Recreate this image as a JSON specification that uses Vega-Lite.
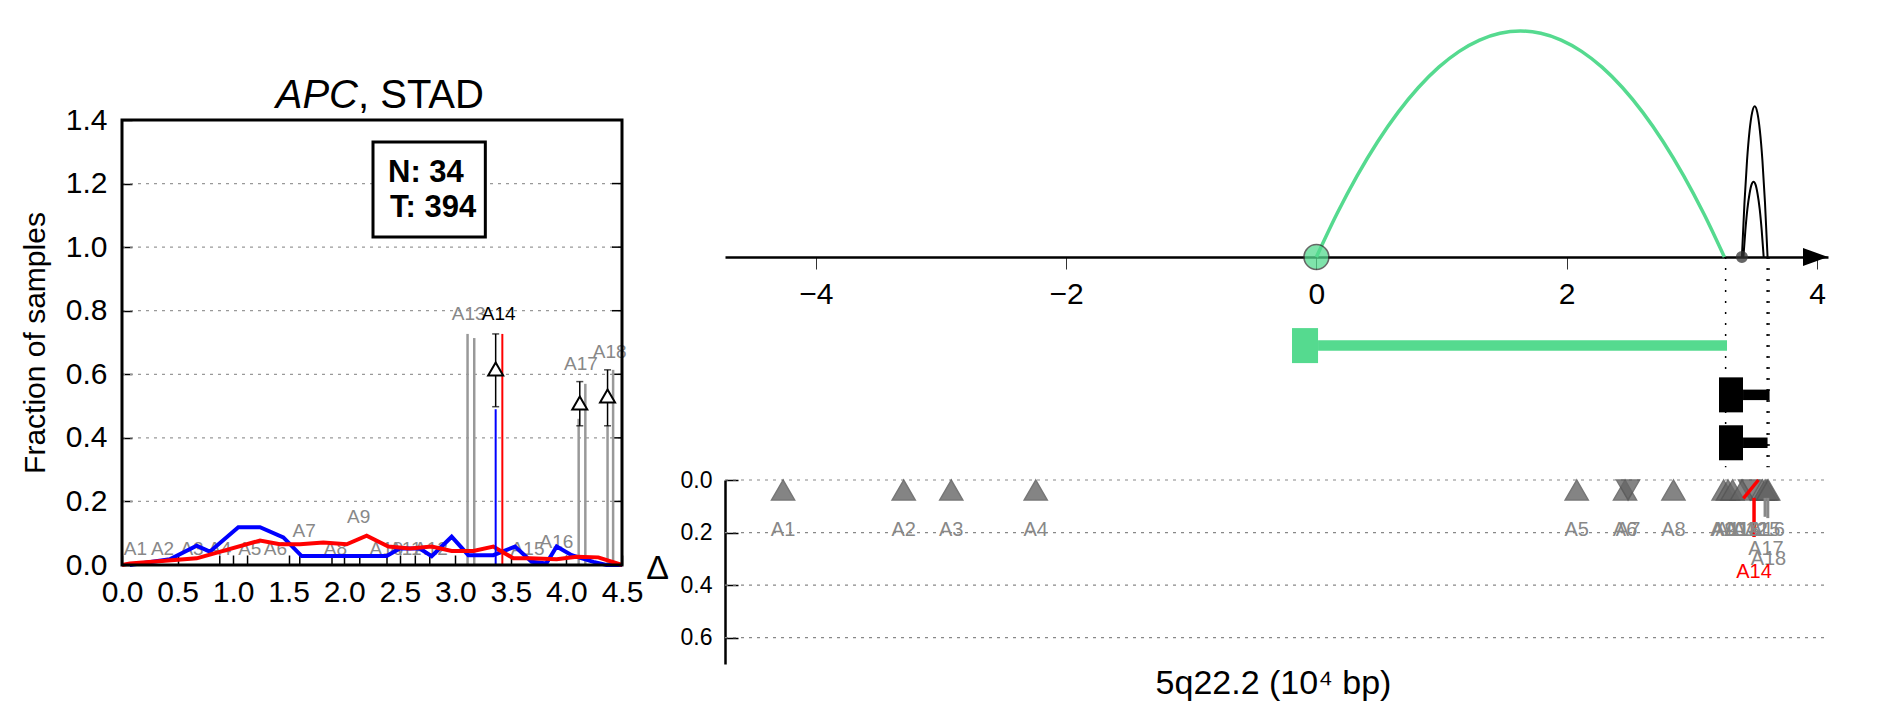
{
  "$schema": "https://vega.github.io/schema/vega-lite/v6.json",
  "width": 1883,
  "height": 718,
  "autosize": {"type": "none"},
  "padding": 0,
  "background": "white",
  "config": {
    "view": {"stroke": null},
    "font": "Liberation Sans",
    "axis": {"labelFont": "Liberation Sans", "titleFont": "Liberation Sans", "grid": false}
  },
  "datasets": {
    "leftGrid": [{"y": 0.2}, {"y": 0.4}, {"y": 0.6}, {"y": 0.8}, {"y": 1.0}, {"y": 1.2}],
    "leftBlue": [
      {"x": 0.07, "y": 0.0}, {"x": 0.43, "y": 0.018}, {"x": 0.672, "y": 0.061}, {"x": 0.79, "y": 0.042},
      {"x": 1.047, "y": 0.119}, {"x": 1.242, "y": 0.119}, {"x": 1.452, "y": 0.087}, {"x": 1.617, "y": 0.028},
      {"x": 2.382, "y": 0.028}, {"x": 2.5, "y": 0.052}, {"x": 2.68, "y": 0.052}, {"x": 2.787, "y": 0.028},
      {"x": 2.967, "y": 0.089}, {"x": 3.117, "y": 0.031}, {"x": 3.342, "y": 0.031}, {"x": 3.537, "y": 0.058},
      {"x": 3.687, "y": 0.01}, {"x": 3.82, "y": 0.005}, {"x": 3.912, "y": 0.058}, {"x": 4.047, "y": 0.031},
      {"x": 4.243, "y": 0.01}, {"x": 4.36, "y": 0.0}, {"x": 4.5, "y": 0.0}
    ],
    "leftRed": [
      {"x": 0.0, "y": 0.0}, {"x": 0.072, "y": 0.005}, {"x": 0.672, "y": 0.021}, {"x": 1.242, "y": 0.077},
      {"x": 1.422, "y": 0.065}, {"x": 1.602, "y": 0.065}, {"x": 1.812, "y": 0.071}, {"x": 2.022, "y": 0.065},
      {"x": 2.202, "y": 0.092}, {"x": 2.397, "y": 0.058}, {"x": 2.592, "y": 0.052}, {"x": 2.787, "y": 0.058},
      {"x": 2.967, "y": 0.044}, {"x": 3.162, "y": 0.044}, {"x": 3.342, "y": 0.058}, {"x": 3.522, "y": 0.021},
      {"x": 3.672, "y": 0.021}, {"x": 3.912, "y": 0.018}, {"x": 4.092, "y": 0.026}, {"x": 4.287, "y": 0.024},
      {"x": 4.5, "y": 0.0}
    ],
    "leftSpikes": [{"x": 3.363, "y": 0.49, "s": "N"}, {"x": 3.423, "y": 0.727, "s": "T"}],
    "leftStems": [
      {"x": 3.11, "y": 0.727}, {"x": 3.17, "y": 0.714}, {"x": 4.11, "y": 0.46},
      {"x": 4.17, "y": 0.57}, {"x": 4.37, "y": 0.44}, {"x": 4.42, "y": 0.614}
    ],
    "leftSmall": [
      {"x": 0.88, "y": 0.03}, {"x": 1.13, "y": 0.03}, {"x": 1.6, "y": 0.03}, {"x": 1.89, "y": 0.03},
      {"x": 2.14, "y": 0.03}, {"x": 2.385, "y": 0.03}, {"x": 2.64, "y": 0.03}, {"x": 2.77, "y": 0.03}
    ],
    "leftErr": [
      {"x": 3.363, "y": 0.617, "lo": 0.498, "hi": 0.727},
      {"x": 4.12, "y": 0.51, "lo": 0.438, "hi": 0.577},
      {"x": 4.37, "y": 0.532, "lo": 0.438, "hi": 0.614}
    ],
    "leftLabels": [
      {"label": "A1", "x": 0.12, "y": 0.03}, {"label": "A2", "x": 0.365, "y": 0.03},
      {"label": "A3", "x": 0.63, "y": 0.03}, {"label": "A4", "x": 0.88, "y": 0.03},
      {"label": "A5", "x": 1.15, "y": 0.03}, {"label": "A6", "x": 1.38, "y": 0.03},
      {"label": "A7", "x": 1.64, "y": 0.088}, {"label": "A8", "x": 1.92, "y": 0.03},
      {"label": "A9", "x": 2.13, "y": 0.132}, {"label": "A10", "x": 2.38, "y": 0.03},
      {"label": "A11", "x": 2.55, "y": 0.03}, {"label": "A12", "x": 2.78, "y": 0.03},
      {"label": "A13", "x": 3.12, "y": 0.772}, {"label": "A14", "x": 3.39, "y": 0.772},
      {"label": "A15", "x": 3.65, "y": 0.03}, {"label": "A16", "x": 3.91, "y": 0.054},
      {"label": "A17", "x": 4.13, "y": 0.613}, {"label": "A18", "x": 4.39, "y": 0.65}
    ],
    "rtDots": [{"x": 3.27}, {"x": 3.602}, {"x": 3.616}],
    "rtGreenArc": [
      {"x": 0.0, "y": 0.0}, {"x": 0.163, "y": 0.19}, {"x": 0.326, "y": 0.36}, {"x": 0.489, "y": 0.51},
      {"x": 0.652, "y": 0.64}, {"x": 0.815, "y": 0.75}, {"x": 0.978, "y": 0.84}, {"x": 1.141, "y": 0.91},
      {"x": 1.304, "y": 0.96}, {"x": 1.467, "y": 0.99}, {"x": 1.63, "y": 1.0}, {"x": 1.793, "y": 0.99},
      {"x": 1.956, "y": 0.96}, {"x": 2.119, "y": 0.91}, {"x": 2.282, "y": 0.84}, {"x": 2.445, "y": 0.75},
      {"x": 2.608, "y": 0.64}, {"x": 2.771, "y": 0.51}, {"x": 2.934, "y": 0.36}, {"x": 3.097, "y": 0.19},
      {"x": 3.26, "y": 0.0}
    ],
    "rtBlackArcs": [
      {"arc": "tall", "x": 3.4, "y": 0.0}, {"arc": "tall", "x": 3.4205, "y": 0.24}, {"arc": "tall", "x": 3.441, "y": 0.427},
      {"arc": "tall", "x": 3.4615, "y": 0.56}, {"arc": "tall", "x": 3.482, "y": 0.64}, {"arc": "tall", "x": 3.5025, "y": 0.667},
      {"arc": "tall", "x": 3.523, "y": 0.64}, {"arc": "tall", "x": 3.5435, "y": 0.56}, {"arc": "tall", "x": 3.564, "y": 0.427},
      {"arc": "tall", "x": 3.5845, "y": 0.24}, {"arc": "tall", "x": 3.605, "y": 0.0},
      {"arc": "short", "x": 3.412, "y": 0.0}, {"arc": "short", "x": 3.428, "y": 0.12}, {"arc": "short", "x": 3.444, "y": 0.213},
      {"arc": "short", "x": 3.461, "y": 0.28}, {"arc": "short", "x": 3.477, "y": 0.32}, {"arc": "short", "x": 3.493, "y": 0.333},
      {"arc": "short", "x": 3.509, "y": 0.32}, {"arc": "short", "x": 3.525, "y": 0.28}, {"arc": "short", "x": 3.542, "y": 0.213},
      {"arc": "short", "x": 3.558, "y": 0.12}, {"arc": "short", "x": 3.574, "y": 0.0}
    ],
    "rtGeneBars": [
      {"gene": "APC", "start": 0.013, "end": 3.281, "lane": -0.392},
      {"gene": "g2", "start": 3.409, "end": 3.621, "lane": -0.61},
      {"gene": "g3", "start": 3.409, "end": 3.605, "lane": -0.822}
    ],
    "rtGeneBoxes": [
      {"gene": "APC", "start": -0.195, "end": 0.013, "lane": -0.392},
      {"gene": "g2", "start": 3.217, "end": 3.409, "lane": -0.61},
      {"gene": "g3", "start": 3.217, "end": 3.409, "lane": -0.822}
    ],
    "rtNodes": [{"x": 0.0, "kind": "fusion"}, {"x": 3.4, "kind": "break"}],
    "rbGrid": [{"y": 0.0}, {"y": 0.2}, {"y": 0.4}, {"y": 0.6}],
    "rbMut": [
      {"id": "A1", "x": -4.262, "dir": "up"}, {"id": "A2", "x": -3.298, "dir": "up"},
      {"id": "A3", "x": -2.918, "dir": "up"}, {"id": "A4", "x": -2.243, "dir": "up"},
      {"id": "A5", "x": 2.08, "dir": "up"}, {"id": "A6", "x": 2.466, "dir": "up"},
      {"id": "A7", "x": 2.49, "dir": "down"}, {"id": "A8", "x": 2.853, "dir": "up"},
      {"id": "A9", "x": 3.254, "dir": "up"}, {"id": "A10", "x": 3.289, "dir": "up"},
      {"id": "A11", "x": 3.325, "dir": "up"}, {"id": "A12", "x": 3.465, "dir": "down"},
      {"id": "A13", "x": 3.401, "dir": "up"}, {"id": "A15", "x": 3.565, "dir": "up"},
      {"id": "A16", "x": 3.601, "dir": "up"}, {"id": "A17", "x": 3.585, "dir": "up"},
      {"id": "A18", "x": 3.61, "dir": "up"}
    ],
    "rbDelta": [
      {"id": "A14", "x": 3.497, "xe": 3.497, "y": 0.068, "ye": 0.217},
      {"id": "A14", "x": 3.412, "xe": 3.532, "y": 0.07, "ye": 0.0},
      {"id": "A17", "x": 3.585, "xe": 3.585, "y": 0.068, "ye": 0.14},
      {"id": "A18", "x": 3.607, "xe": 3.607, "y": 0.068, "ye": 0.145}
    ],
    "rbLabels": [
      {"label": "A1", "x": -4.262, "y": 0.213}, {"label": "A2", "x": -3.298, "y": 0.213},
      {"label": "A3", "x": -2.918, "y": 0.213}, {"label": "A4", "x": -2.243, "y": 0.213},
      {"label": "A5", "x": 2.08, "y": 0.213}, {"label": "A6", "x": 2.466, "y": 0.213},
      {"label": "A7", "x": 2.49, "y": 0.213}, {"label": "A8", "x": 2.853, "y": 0.213},
      {"label": "A9", "x": 3.254, "y": 0.213}, {"label": "A10", "x": 3.289, "y": 0.213},
      {"label": "A11", "x": 3.325, "y": 0.213}, {"label": "A12", "x": 3.465, "y": 0.213},
      {"label": "A13", "x": 3.401, "y": 0.213}, {"label": "A15", "x": 3.565, "y": 0.213},
      {"label": "A16", "x": 3.601, "y": 0.213}, {"label": "A17", "x": 3.592, "y": 0.285},
      {"label": "A18", "x": 3.612, "y": 0.323}, {"label": "A14", "x": 3.497, "y": 0.373}
    ]
  },
  "layer": [
    {
      "resolve": {"axis": {"x": "independent", "y": "independent"}},
      "layer": [
        {
          "data": {"name": "leftGrid"},
          "mark": {"type": "rule", "color": "#999999", "strokeWidth": 1.2, "strokeDash": [3, 5]},
          "encoding": {
            "x": {"datum": 0, "type": "quantitative", "scale": {"domain": [0, 4.5], "range": [122, 622], "nice": false, "zero": false}, "axis": null},
            "x2": {"datum": 4.5},
            "y": {"field": "y", "type": "quantitative", "scale": {"domain": [0, 1.4], "range": [565, 120], "nice": false, "zero": false}, "axis": null}
          }
        },
        {
          "data": {"name": "leftGrid"},
          "mark": {"type": "rule", "color": "black", "strokeWidth": 1.5},
          "encoding": {
            "x": {"datum": 4.41, "type": "quantitative", "scale": {"domain": [0, 4.5], "range": [122, 622], "nice": false, "zero": false}, "axis": null},
            "x2": {"datum": 4.5},
            "y": {"field": "y", "type": "quantitative", "scale": {"domain": [0, 1.4], "range": [565, 120], "nice": false, "zero": false}, "axis": null}
          }
        },
        {
          "data": {"name": "leftStems"},
          "mark": {"type": "rule", "color": "#999999", "strokeWidth": 2.5},
          "encoding": {
            "x": {"field": "x", "type": "quantitative", "scale": {"domain": [0, 4.5], "range": [122, 622], "nice": false, "zero": false}, "axis": null},
            "y": {"field": "y", "type": "quantitative", "scale": {"domain": [0, 1.4], "range": [565, 120], "nice": false, "zero": false}, "axis": null},
            "y2": {"datum": 0}
          }
        },
        {
          "data": {"name": "leftSmall"},
          "mark": {"type": "rule", "color": "black", "strokeWidth": 1.5},
          "encoding": {
            "x": {"field": "x", "type": "quantitative", "scale": {"domain": [0, 4.5], "range": [122, 622], "nice": false, "zero": false}, "axis": null},
            "y": {"field": "y", "type": "quantitative", "scale": {"domain": [0, 1.4], "range": [565, 120], "nice": false, "zero": false}, "axis": null},
            "y2": {"datum": 0}
          }
        },
        {
          "data": {"name": "leftLabels"},
          "mark": {"type": "text", "fontSize": 19, "baseline": "alphabetic", "align": "center", "font": "Liberation Sans"},
          "encoding": {
            "x": {"field": "x", "type": "quantitative", "scale": {"domain": [0, 4.5], "range": [122, 622], "nice": false, "zero": false}, "axis": null},
            "y": {"field": "y", "type": "quantitative", "scale": {"domain": [0, 1.4], "range": [565, 120], "nice": false, "zero": false}, "axis": null},
            "text": {"field": "label"},
            "color": {"condition": {"test": "datum.label === 'A14'", "value": "black"}, "value": "#888888"}
          }
        },
        {
          "data": {"name": "leftBlue"},
          "mark": {"type": "line", "color": "#0000ff", "strokeWidth": 4},
          "encoding": {
            "x": {
              "field": "x", "type": "quantitative",
              "scale": {"domain": [0, 4.5], "range": [122, 622], "nice": false, "zero": false},
              "axis": {
                "orient": "bottom", "offset": -153, "values": [0, 0.5, 1, 1.5, 2, 2.5, 3, 3.5, 4, 4.5],
                "format": ".1f", "domain": false, "ticks": true, "tickSize": -10, "tickColor": "black", "tickWidth": 1.5,
                "labelFontSize": 30, "labelPadding": 22, "labelColor": "black", "labelFlush": false, "labelOverlap": false,
                "title": null, "grid": false
              }
            },
            "y": {
              "field": "y", "type": "quantitative",
              "scale": {"domain": [0, 1.4], "range": [565, 120], "nice": false, "zero": false},
              "axis": {
                "orient": "left", "offset": -122, "values": [0, 0.2, 0.4, 0.6, 0.8, 1.0, 1.2, 1.4],
                "format": ".1f", "domain": false, "ticks": true, "tickSize": -10, "tickColor": "black", "tickWidth": 1.5,
                "labelFontSize": 30, "labelPadding": 25, "labelColor": "black", "labelFlush": false, "labelOverlap": false,
                "title": "Fraction of samples", "titleFontSize": 30, "titleFontWeight": "normal", "titleColor": "black",
                "titleX": -78, "titleBaseline": "alphabetic", "titleAngle": 270, "grid": false
              }
            }
          }
        },
        {
          "data": {"name": "leftRed"},
          "mark": {"type": "line", "color": "#ff0000", "strokeWidth": 4},
          "encoding": {
            "x": {"field": "x", "type": "quantitative", "scale": {"domain": [0, 4.5], "range": [122, 622], "nice": false, "zero": false}, "axis": null},
            "y": {"field": "y", "type": "quantitative", "scale": {"domain": [0, 1.4], "range": [565, 120], "nice": false, "zero": false}, "axis": null}
          }
        },
        {
          "data": {"name": "leftSpikes"},
          "mark": {"type": "rule", "strokeWidth": 2},
          "encoding": {
            "x": {"field": "x", "type": "quantitative", "scale": {"domain": [0, 4.5], "range": [122, 622], "nice": false, "zero": false}, "axis": null},
            "y": {"field": "y", "type": "quantitative", "scale": {"domain": [0, 1.4], "range": [565, 120], "nice": false, "zero": false}, "axis": null},
            "y2": {"datum": 0},
            "color": {"condition": {"test": "datum.s === 'T'", "value": "#ff0000"}, "value": "#0000ff"}
          }
        },
        {
          "data": {"name": "leftErr"},
          "mark": {"type": "errorbar", "color": "black", "thickness": 1.5, "ticks": {"size": 7}},
          "encoding": {
            "x": {"field": "x", "type": "quantitative", "scale": {"domain": [0, 4.5], "range": [122, 622], "nice": false, "zero": false}, "axis": null},
            "y": {"field": "lo", "type": "quantitative", "scale": {"domain": [0, 1.4], "range": [565, 120], "nice": false, "zero": false}, "axis": null},
            "y2": {"field": "hi"}
          }
        },
        {
          "data": {"name": "leftErr"},
          "mark": {"type": "point", "shape": "triangle-up", "filled": true, "fill": "white", "stroke": "black", "strokeWidth": 2, "size": 225, "opacity": 1},
          "encoding": {
            "x": {"field": "x", "type": "quantitative", "scale": {"domain": [0, 4.5], "range": [122, 622], "nice": false, "zero": false}, "axis": null},
            "y": {"field": "y", "type": "quantitative", "scale": {"domain": [0, 1.4], "range": [565, 120], "nice": false, "zero": false}, "axis": null}
          }
        },
        {
          "data": {"values": [{}]},
          "mark": {"type": "rect", "filled": false, "color": "black", "strokeWidth": 3},
          "encoding": {
            "x": {"datum": 0, "type": "quantitative", "scale": {"domain": [0, 4.5], "range": [122, 622], "nice": false, "zero": false}, "axis": null},
            "x2": {"datum": 4.5},
            "y": {"datum": 0, "type": "quantitative", "scale": {"domain": [0, 1.4], "range": [565, 120], "nice": false, "zero": false}, "axis": null},
            "y2": {"datum": 1.4}
          }
        },
        {
          "data": {"values": [{}]},
          "mark": {"type": "rect", "fill": "white", "stroke": "black", "strokeWidth": 3},
          "encoding": {
            "x": {"datum": 2.259, "type": "quantitative", "scale": {"domain": [0, 4.5], "range": [122, 622], "nice": false, "zero": false}, "axis": null},
            "x2": {"datum": 3.27},
            "y": {"datum": 1.032, "type": "quantitative", "scale": {"domain": [0, 1.4], "range": [565, 120], "nice": false, "zero": false}, "axis": null},
            "y2": {"datum": 1.331}
          }
        },
        {
          "data": {"values": [{}]},
          "mark": {"type": "text", "text": "N: 34", "fontSize": 31, "fontWeight": "bold", "align": "left", "baseline": "alphabetic", "color": "black"},
          "encoding": {
            "x": {"datum": 2.394, "type": "quantitative", "scale": {"domain": [0, 4.5], "range": [122, 622], "nice": false, "zero": false}, "axis": null},
            "y": {"datum": 1.205, "type": "quantitative", "scale": {"domain": [0, 1.4], "range": [565, 120], "nice": false, "zero": false}, "axis": null}
          }
        },
        {
          "data": {"values": [{}]},
          "mark": {"type": "text", "text": "T: 394", "fontSize": 31, "fontWeight": "bold", "align": "left", "baseline": "alphabetic", "color": "black"},
          "encoding": {
            "x": {"datum": 2.412, "type": "quantitative", "scale": {"domain": [0, 4.5], "range": [122, 622], "nice": false, "zero": false}, "axis": null},
            "y": {"datum": 1.095, "type": "quantitative", "scale": {"domain": [0, 1.4], "range": [565, 120], "nice": false, "zero": false}, "axis": null}
          }
        },
        {
          "data": {"values": [{}]},
          "mark": {"type": "text", "text": "APC", "fontSize": 40, "fontStyle": "italic", "align": "right", "baseline": "alphabetic", "color": "black"},
          "encoding": {
            "x": {"datum": 2.124, "type": "quantitative", "scale": {"domain": [0, 4.5], "range": [122, 622], "nice": false, "zero": false}, "axis": null},
            "y": {"datum": 1.4376, "type": "quantitative", "scale": {"domain": [0, 1.4], "range": [565, 120], "nice": false, "zero": false}, "axis": null}
          }
        },
        {
          "data": {"values": [{}]},
          "mark": {"type": "text", "text": ", STAD", "fontSize": 40, "align": "left", "baseline": "alphabetic", "color": "black"},
          "encoding": {
            "x": {"datum": 2.124, "type": "quantitative", "scale": {"domain": [0, 4.5], "range": [122, 622], "nice": false, "zero": false}, "axis": null},
            "y": {"datum": 1.4376, "type": "quantitative", "scale": {"domain": [0, 1.4], "range": [565, 120], "nice": false, "zero": false}, "axis": null}
          }
        }
      ]
    },
    {
      "resolve": {"axis": {"x": "independent", "y": "independent"}},
      "layer": [
        {
          "data": {"name": "rtDots"},
          "mark": {"type": "rule", "color": "black", "strokeWidth": 1.5, "strokeDash": [2, 9]},
          "encoding": {
            "x": {"field": "x", "type": "quantitative", "scale": {"domain": [-4.726, 4.088], "range": [725, 1828], "nice": false, "zero": false}, "axis": null},
            "y": {"datum": 0, "type": "quantitative", "scale": {"domain": [-1, 1], "range": [488, 26], "nice": false, "zero": false}, "axis": null},
            "y2": {"datum": -0.93}
          }
        },
        {
          "data": {"name": "rtGeneBars"},
          "mark": {"type": "rule", "strokeWidth": 10.5},
          "encoding": {
            "x": {"field": "start", "type": "quantitative", "scale": {"domain": [-4.726, 4.088], "range": [725, 1828], "nice": false, "zero": false}, "axis": null},
            "x2": {"field": "end"},
            "y": {"field": "lane", "type": "quantitative", "scale": {"domain": [-1, 1], "range": [488, 26], "nice": false, "zero": false}, "axis": null},
            "color": {"condition": {"test": "datum.gene === 'APC'", "value": "#55da8f"}, "value": "black"}
          }
        },
        {
          "data": {"name": "rtGeneBoxes"},
          "mark": {"type": "bar", "orient": "horizontal", "size": 35},
          "encoding": {
            "x": {"field": "start", "type": "quantitative", "scale": {"domain": [-4.726, 4.088], "range": [725, 1828], "nice": false, "zero": false}, "axis": null},
            "x2": {"field": "end"},
            "y": {"field": "lane", "type": "quantitative", "scale": {"domain": [-1, 1], "range": [488, 26], "nice": false, "zero": false}, "axis": null},
            "color": {"condition": {"test": "datum.gene === 'APC'", "value": "#55da8f"}, "value": "black"}
          }
        },
        {
          "data": {"name": "rtGreenArc"},
          "mark": {"type": "line", "color": "#55da8f", "strokeWidth": 3.5, "interpolate": "monotone"},
          "encoding": {
            "x": {
              "field": "x", "type": "quantitative",
              "scale": {"domain": [-4.726, 4.088], "range": [725, 1828], "nice": false, "zero": false},
              "axis": {
                "orient": "bottom", "offset": -461, "values": [-4, -2, 0, 2, 4], "format": "d",
                "domain": true, "domainColor": "black", "domainWidth": 2.5,
                "ticks": true, "tickSize": 12, "tickColor": "#333333", "tickWidth": 1,
                "labelFontSize": 30, "labelPadding": 10, "labelColor": "black", "labelFlush": false, "labelOverlap": false,
                "title": "5q22.2 (10⁴ bp)", "titleFontSize": 34, "titleFontWeight": "normal", "titleColor": "black",
                "titleX": 1273, "titleY": 436, "titleAlign": "center", "titleBaseline": "alphabetic", "grid": false
              }
            },
            "y": {"field": "y", "type": "quantitative", "scale": {"domain": [-1, 1], "range": [488, 26], "nice": false, "zero": false}, "axis": null}
          }
        },
        {
          "data": {"name": "rtBlackArcs"},
          "mark": {"type": "line", "color": "black", "strokeWidth": 2, "interpolate": "monotone"},
          "encoding": {
            "x": {"field": "x", "type": "quantitative", "scale": {"domain": [-4.726, 4.088], "range": [725, 1828], "nice": false, "zero": false}, "axis": null},
            "y": {"field": "y", "type": "quantitative", "scale": {"domain": [-1, 1], "range": [488, 26], "nice": false, "zero": false}, "axis": null},
            "detail": {"field": "arc"}
          }
        },
        {
          "data": {"name": "rtNodes"},
          "mark": {"type": "point", "shape": "circle", "filled": true, "stroke": "#333333", "strokeWidth": 1.5, "opacity": 0.75},
          "encoding": {
            "x": {"field": "x", "type": "quantitative", "scale": {"domain": [-4.726, 4.088], "range": [725, 1828], "nice": false, "zero": false}, "axis": null},
            "y": {"datum": 0, "type": "quantitative", "scale": {"domain": [-1, 1], "range": [488, 26], "nice": false, "zero": false}, "axis": null},
            "color": {"condition": {"test": "datum.kind === 'fusion'", "value": "#55da8f"}, "value": "#333333"},
            "size": {"condition": {"test": "datum.kind === 'fusion'", "value": 620}, "value": 110}
          }
        },
        {
          "data": {"values": [{}]},
          "mark": {"type": "point", "shape": "M1,0L-1,-0.72L-1,0.72Z", "filled": true, "color": "black", "size": 625, "opacity": 1},
          "encoding": {
            "x": {"datum": 3.988, "type": "quantitative", "scale": {"domain": [-4.726, 4.088], "range": [725, 1828], "nice": false, "zero": false}, "axis": null},
            "y": {"datum": 0, "type": "quantitative", "scale": {"domain": [-1, 1], "range": [488, 26], "nice": false, "zero": false}, "axis": null}
          }
        }
      ]
    },
    {
      "resolve": {"axis": {"x": "independent", "y": "independent"}},
      "layer": [
        {
          "data": {"name": "rbGrid"},
          "mark": {"type": "rule", "color": "#888888", "strokeWidth": 1.2, "strokeDash": [3, 5]},
          "encoding": {
            "x": {"datum": -4.726, "type": "quantitative", "scale": {"domain": [-4.726, 4.088], "range": [725, 1828], "nice": false, "zero": false}, "axis": null},
            "x2": {"datum": 4.088},
            "y": {
              "field": "y", "type": "quantitative",
              "scale": {"domain": [0, 0.7], "range": [480, 664], "nice": false, "zero": false},
              "axis": {
                "orient": "left", "offset": -725, "values": [0, 0.2, 0.4, 0.6], "format": ".1f",
                "domain": true, "domainColor": "black", "domainWidth": 2.5,
                "ticks": true, "tickSize": -13, "tickColor": "black", "tickWidth": 1.5,
                "labelFontSize": 23, "labelPadding": 26, "labelColor": "black", "labelFlush": false, "labelOverlap": false,
                "title": "Δ", "titleFontSize": 34, "titleFontWeight": "normal", "titleColor": "black", "titleAngle": 0,
                "titleX": -68, "titleY": 568, "titleAlign": "center", "titleBaseline": "middle", "grid": false
              }
            }
          }
        },
        {
          "data": {"name": "rbMut"},
          "mark": {"type": "point", "filled": true, "color": "#666666", "stroke": "#555555", "strokeWidth": 1.5, "opacity": 0.8, "size": 530},
          "encoding": {
            "x": {"field": "x", "type": "quantitative", "scale": {"domain": [-4.726, 4.088], "range": [725, 1828], "nice": false, "zero": false}, "axis": null},
            "y": {"datum": 0.038, "type": "quantitative", "scale": {"domain": [0, 0.7], "range": [480, 664], "nice": false, "zero": false}, "axis": null},
            "shape": {"field": "dir", "type": "nominal", "scale": {"domain": ["up", "down"], "range": ["triangle-up", "triangle-down"]}, "legend": null}
          }
        },
        {
          "data": {"name": "rbDelta"},
          "mark": {"type": "rule"},
          "encoding": {
            "x": {"field": "x", "type": "quantitative", "scale": {"domain": [-4.726, 4.088], "range": [725, 1828], "nice": false, "zero": false}, "axis": null},
            "x2": {"field": "xe"},
            "y": {"field": "y", "type": "quantitative", "scale": {"domain": [0, 0.7], "range": [480, 664], "nice": false, "zero": false}, "axis": null},
            "y2": {"field": "ye"},
            "color": {"condition": {"test": "datum.id === 'A14'", "value": "#ff0000"}, "value": "#888888"},
            "strokeWidth": {"condition": {"test": "datum.id === 'A14'", "value": 3.5}, "value": 3}
          }
        },
        {
          "data": {"name": "rbLabels"},
          "mark": {"type": "text", "fontSize": 20, "align": "center", "baseline": "alphabetic"},
          "encoding": {
            "x": {"field": "x", "type": "quantitative", "scale": {"domain": [-4.726, 4.088], "range": [725, 1828], "nice": false, "zero": false}, "axis": null},
            "y": {"field": "y", "type": "quantitative", "scale": {"domain": [0, 0.7], "range": [480, 664], "nice": false, "zero": false}, "axis": null},
            "text": {"field": "label"},
            "color": {"condition": {"test": "datum.label === 'A14'", "value": "#ff0000"}, "value": "#888888"}
          }
        }
      ]
    }
  ],
  "resolve": {
    "scale": {"x": "independent", "y": "independent"},
    "axis": {"x": "independent", "y": "independent"}
  }
}
